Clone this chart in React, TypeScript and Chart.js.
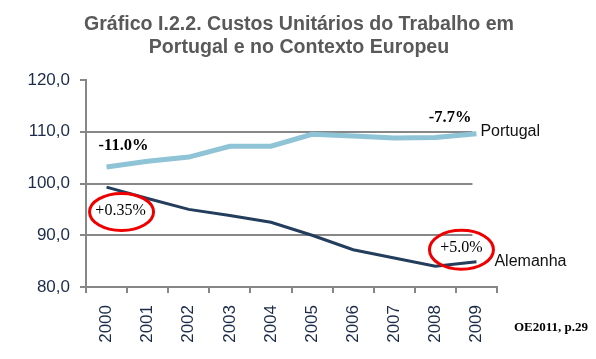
import React, { useEffect, useRef } from "react";
import { Chart, registerables } from "chart.js";

Chart.register(...registerables);

const years = ["2000", "2001", "2002", "2003", "2004", "2005", "2006", "2007", "2008", "2009"];
const portugal = [103.2, 104.3, 105.1, 107.2, 107.2, 109.5, 109.2, 108.8, 108.9, 109.6];
const alemanha = [99.3, 97.1, 95.0, 93.8, 92.5, 90.0, 87.2, 85.6, 84.0, 84.9];
const gridValues = [90, 100, 110];
const titleLines = ["Gráfico I.2.2. Custos Unitários do Trabalho em", "Portugal e no Contexto Europeu"];
const seriesNames = ["Portugal", "Alemanha"];
const notes = ["-11.0%", "-7.7%", "+0.35%", "+5.0%"];
const source = "OE2011, p.29";

const GRAY = "#878787";
const NAVY = "#1b2b48";

const decorPlugin = {
  id: "decor",
  beforeDatasetsDraw(chart: any) {
    const { ctx, chartArea, scales } = chart;
    const y = scales.y;
    const x = scales.x;
    ctx.save();
    ctx.strokeStyle = GRAY;
    ctx.lineWidth = 2;
    const right = x.getPixelForValue(years.length - 1) - 4;
    gridValues.forEach((v) => {
      const py = Math.round(y.getPixelForValue(v));
      ctx.beginPath();
      ctx.moveTo(chartArea.left, py);
      ctx.lineTo(right, py);
      ctx.stroke();
    });
    ctx.restore();
  },
  afterDraw(chart: any) {
    const { ctx, scales, width } = chart;
    const x = scales.x;
    const y = scales.y;
    ctx.save();
    // title
    ctx.fillStyle = "#595959";
    ctx.font = 'bold 19.6px "Liberation Sans", Arial, sans-serif';
    ctx.textAlign = "center";
    ctx.textBaseline = "alphabetic";
    ctx.fillText(titleLines[0], 299, 30);
    ctx.fillText(titleLines[1], 299, 53);

    const x0 = x.getPixelForValue(0);
    const x9 = x.getPixelForValue(years.length - 1);

    // series labels
    ctx.fillStyle = "#111111";
    ctx.font = '16px "Liberation Sans", Arial, sans-serif';
    ctx.textAlign = "left";
    ctx.textBaseline = "middle";
    ctx.fillText(seriesNames[0], x9 + 4, y.getPixelForValue(110));
    ctx.fillText(seriesNames[1], x9 + 18, y.getPixelForValue(85));

    // notes
    ctx.fillStyle = "#000000";
    ctx.font = 'bold 16.5px "Liberation Serif", "Times New Roman", serif';
    ctx.textAlign = "left";
    ctx.fillText(notes[0], x0 - 8, y.getPixelForValue(107.3));
    ctx.textAlign = "right";
    ctx.fillText(notes[1], x9 - 5, y.getPixelForValue(112.7));

    ctx.font = '16px "Liberation Serif", "Times New Roman", serif';
    ctx.textAlign = "center";
    ctx.fillText(notes[2], x0 + 14, y.getPixelForValue(94.8));
    ctx.fillText(notes[3], x9 - 15, y.getPixelForValue(87.5));

    // ellipses
    ctx.strokeStyle = "#ee0000";
    ctx.lineWidth = 3;
    ctx.beginPath();
    ctx.ellipse(x0 + 15, y.getPixelForValue(94.5), 32, 18.5, 0, 0, Math.PI * 2);
    ctx.stroke();
    ctx.beginPath();
    ctx.ellipse(x9 - 15, y.getPixelForValue(87.2), 32, 19.5, 0, 0, Math.PI * 2);
    ctx.stroke();

    // source
    ctx.fillStyle = "#000000";
    ctx.font = 'bold 13px "Liberation Serif", "Times New Roman", serif';
    ctx.textAlign = "right";
    ctx.fillText(source, width - 8, 328);
    ctx.restore();
  },
};

export default function App() {
  const ref = useRef<HTMLCanvasElement | null>(null);
  useEffect(() => {
    if (!ref.current) return;
    const chart = new Chart(ref.current, {
      type: "line",
      data: {
        labels: years,
        datasets: [
          {
            label: seriesNames[0],
            data: portugal,
            borderColor: "#8fc3d6",
            borderWidth: 5,
            pointRadius: 0,
            tension: 0,
            fill: false,
          },
          {
            label: seriesNames[1],
            data: alemanha,
            borderColor: "#233d5c",
            borderWidth: 3,
            pointRadius: 0,
            tension: 0,
            fill: false,
          },
        ],
      },
      options: {
        animation: false,
        responsive: false,
        layout: { padding: { top: 80, right: 99, left: 0, bottom: 0 } },
        plugins: { legend: { display: false }, title: { display: false }, tooltip: { enabled: false } },
        scales: {
          x: {
            type: "category",
            offset: true,
            grid: { offset: true, drawOnChartArea: false, drawTicks: true, tickLength: 6, color: GRAY, lineWidth: 2 },
            border: { display: true, color: GRAY, width: 2 },
            ticks: {
              color: NAVY,
              font: { family: '"Liberation Sans", Arial, sans-serif', size: 17 },
              minRotation: 90,
              maxRotation: 90,
              padding: 12,
              autoSkip: false,
            },
            afterFit(scale: any) {
              scale.height = 72;
            },
          },
          y: {
            min: 80,
            max: 120,
            grid: { drawOnChartArea: false, drawTicks: true, tickLength: 6, color: GRAY, lineWidth: 2 },
            border: { display: true, color: GRAY, width: 2 },
            ticks: {
              stepSize: 10,
              color: NAVY,
              padding: 10,
              font: { family: '"Liberation Sans", Arial, sans-serif', size: 17 },
              callback: (v: any) => Number(v).toFixed(1).replace(".", ","),
            },
            afterFit(scale: any) {
              scale.width = 86;
            },
          },
        },
      },
      plugins: [decorPlugin],
    });
    return () => chart.destroy();
  }, []);
  return (
    <div style={{ position: "absolute", left: 0, top: 0, width: 596, height: 359, background: "#fff" }}>
      <canvas ref={ref} width={596} height={359} />
    </div>
  );
}
